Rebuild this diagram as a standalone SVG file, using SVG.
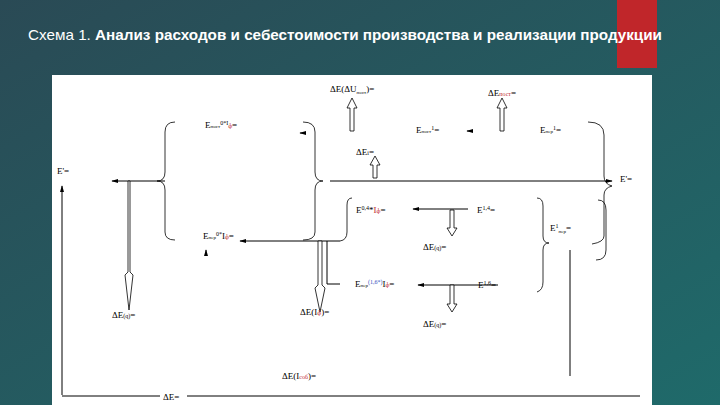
<svg xmlns="http://www.w3.org/2000/svg" width="720" height="405" viewBox="0 0 720 405">
<defs>
<linearGradient id="bg" x1="0" y1="0" x2="1" y2="1"><stop offset="0" stop-color="#2a4a55"/><stop offset="1" stop-color="#1f6a6a"/></linearGradient>
<marker id="ah" viewBox="0 0 10 10" refX="9" refY="5" markerWidth="7" markerHeight="7" orient="auto"><path d="M0,2 L10,5 L0,8 Z" fill="#000"/></marker>
</defs>
<style>
.t{font-family:"Liberation Serif",serif;font-size:9px;fill:#000}
.l{stroke:#000;stroke-width:1;fill:none}
.b{stroke:#000;stroke-width:0.8;fill:none}
.h{stroke:#000;stroke-width:0.8;fill:#fff}
</style>
<rect width="720" height="405" fill="url(#bg)"/>
<rect x="617" y="0" width="40" height="68" fill="#c0262a"/>
<text x="28" y="40" font-family="Liberation Sans, sans-serif" font-size="15" fill="#fff" textLength="634" lengthAdjust="spacingAndGlyphs">Схема 1. <tspan font-weight="bold">Анализ расходов и себестоимости производства и реализации продукции</tspan></text>
<rect x="52" y="75" width="600" height="330" fill="#fff"/>
<g id="connectors">
<path class="l" d="M165,181 H112" marker-end="url(#ah)"/>
<path class="l" d="M62,395 V186" marker-end="url(#ah)"/>
<path class="l" d="M62,396 H160 M187,396 H640"/>
<path class="l" d="M330,181 H612" marker-end="url(#ah)"/>
<path class="l" d="M340,241 H240" marker-end="url(#ah)"/>
<path class="l" d="M327,241 V284 H340"/>
<path class="l" d="M468,209 H413" marker-end="url(#ah)"/>
<path class="l" d="M498,285 H418" marker-end="url(#ah)"/>
<path class="l" d="M570,250 V376"/>
<path class="l" d="M305,133 H300" marker-end="url(#ah)"/>
<path class="l" d="M472,131 H467" marker-end="url(#ah)"/>
<path class="l" d="M206,254 V250" marker-end="url(#ah)"/>
<path class="h" d="M128,181 V272 L125,275 L129,310 L133,275 L130,272 V181 Z"/>
<path class="h" d="M318,241 V285 L315,288 L320,312 L325,288 L322,285 V241 Z"/>
<path class="h" d="M350,131 V108 L347,108 L352,98 L357,108 L354,108 V131 Z"/>
<path class="h" d="M500,131 V108 L497,108 L502,98 L507,108 L504,108 V131 Z"/>
<path class="h" d="M373,178 V165 L370,165 L375,156 L380,165 L377,165 V178 Z"/>
<path class="h" d="M450,210 V228 L447,228 L452,236 L457,228 L454,228 V210 Z"/>
<path class="h" d="M450,285 V304 L447,304 L452,312 L457,304 L454,304 V285 Z"/>
</g>
<g id="braces">
<path class="b" d="M175,122 Q165,122 165,132 V172 Q165,181 157,181 Q165,181 165,190 V232 Q165,240 175,240"/>
<path class="b" d="M303,122 Q315,122 315,132 V172 Q315,181 323,181 Q315,181 315,190 V232 Q315,240 303,240"/>
<path class="b" d="M588,122 Q604,122 604,135 V176 Q604,184 612,186 Q604,188 604,195 V236 Q604,242 592,244"/>
<path class="b" d="M352,198 Q347,198 347,205 V232 Q347,240 340,241"/>
<path class="b" d="M537,198 Q543,198 543,206 V236 Q543,243 549,243 Q543,243 543,250 V282 Q543,290 537,292"/>
<path class="b" d="M598,200 Q606,200 606,210 V250 Q606,260 596,260"/>
</g>
<g id="labels">
<text class="t" x="57" y="174">E'=</text>
<text class="t" x="205" y="128">E<tspan font-size="5">пост</tspan><tspan font-size="6" dy="-3">0*I</tspan><tspan font-size="6" dy="3" fill="#c0262a">ф</tspan>=</text>
<text class="t" x="203" y="239">E<tspan font-size="5">пер</tspan><tspan font-size="6" dy="-3">0*</tspan><tspan dy="3">I</tspan><tspan font-size="6" fill="#c0262a">ф</tspan>=</text>
<text class="t" x="112" y="318">ΔE<tspan font-size="6">(q)</tspan>=</text>
<text class="t" x="330" y="92">ΔE(ΔU<tspan font-size="5" dy="2">пост</tspan><tspan dy="-2">)=</tspan></text>
<text class="t" x="488" y="96">ΔE<tspan font-size="6" fill="#c0262a">пост</tspan>=</text>
<text class="t" x="416" y="133">E<tspan font-size="5">пост</tspan><tspan font-size="6" dy="-3">1</tspan><tspan dy="3">=</tspan></text>
<text class="t" x="540" y="133">E<tspan font-size="5">пер</tspan><tspan font-size="6" dy="-3">1</tspan><tspan dy="3">=</tspan></text>
<text class="t" x="356" y="155">ΔE<tspan font-size="6">i</tspan>=</text>
<text class="t" x="620" y="182">E'=</text>
<text class="t" x="356" y="213">E<tspan font-size="6" dy="-3">0,4</tspan><tspan dy="3">*</tspan><tspan fill="#c0262a">I<tspan font-size="6">ф</tspan></tspan>=</text>
<text class="t" x="477" y="213">E<tspan font-size="6" dy="-3">1,4</tspan><tspan dy="3">=</tspan></text>
<text class="t" x="423" y="250">ΔE<tspan font-size="6">(q)</tspan>=</text>
<text class="t" x="550" y="231">E<tspan font-size="6" dy="-3">1</tspan><tspan font-size="5" dy="5">пер</tspan><tspan dy="-2">=</tspan></text>
<text class="t" x="355" y="287">E<tspan font-size="5">пер</tspan><tspan font-size="6" dy="-3" fill="#3050c0">(1,6*)</tspan><tspan dy="3">I</tspan><tspan font-size="6" fill="#c0262a">ф</tspan>=</text>
<text class="t" x="478" y="288">E<tspan font-size="6" dy="-3">1,6</tspan><tspan dy="3">=</tspan></text>
<text class="t" x="423" y="327">ΔE<tspan font-size="6">(q)</tspan>=</text>
<text class="t" x="300" y="315">ΔE(I<tspan font-size="6" fill="#c0262a">ф</tspan>)=</text>
<text class="t" x="282" y="379">ΔE(I<tspan font-size="6" fill="#c0262a">соб</tspan>)=</text>
<text class="t" x="163" y="400">ΔE=</text>
</g>
</svg>
